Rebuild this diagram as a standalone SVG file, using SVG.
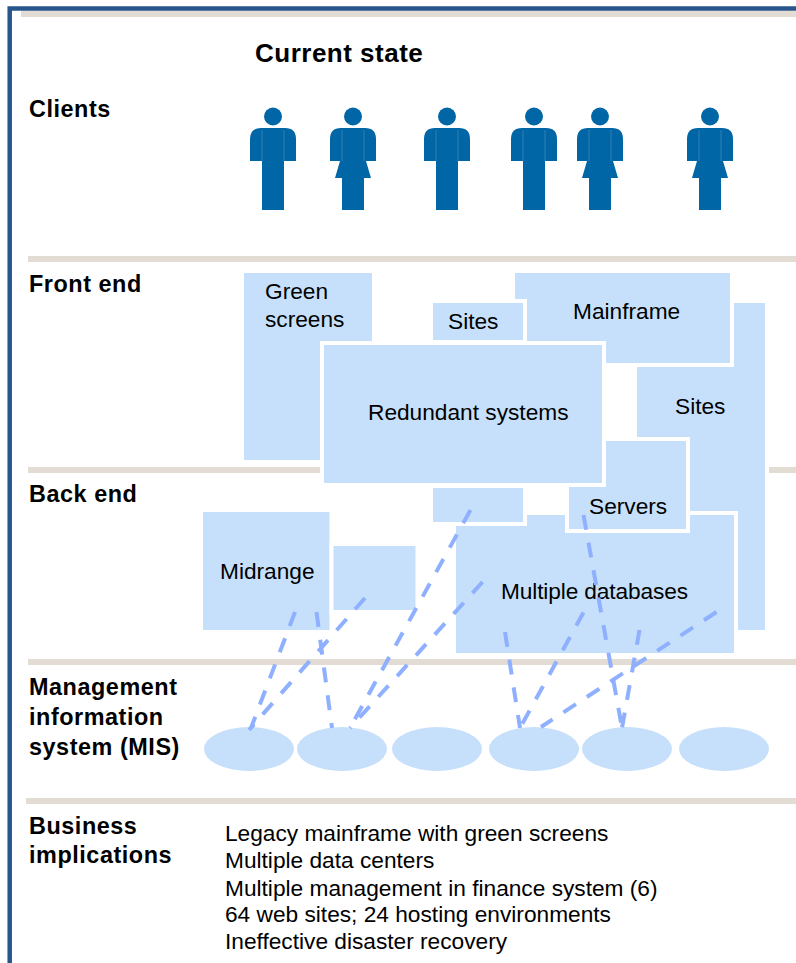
<svg xmlns="http://www.w3.org/2000/svg" width="796" height="963" viewBox="0 0 796 963">
<defs>
<style>
.t{font-family:"Liberation Sans",Arial,sans-serif;font-size:22.7px;fill:#000}
.h{font-family:"Liberation Sans",Arial,sans-serif;font-size:23.4px;font-weight:bold;fill:#000;letter-spacing:.55px}
.b{fill:#c6e0fb;stroke:#fff;stroke-width:8;paint-order:stroke}
.e{fill:#c6e0fb}
.rule{fill:#e3dcd5}
.c{fill:none;stroke:#8fb0ff;stroke-width:4;stroke-dasharray:15 13}
.p{fill:#0066a6}
.s{fill:none;stroke:#3f86b8;stroke-width:.8}
</style>
<g id="man"><circle cx="0" cy="-10.500" r="9"/><path d="M-23 34V12Q-23 1 -12 1H12Q23 1 23 12V34H11V83H-11V34Z"/><path class="s" d="M-11 3V34M11 3V34"/></g>
<g id="woman"><circle cx="0" cy="-10.500" r="9"/><path d="M-23 34V12Q-23 1 -12 1H12Q23 1 23 12V34H13L18 51H11V83H-11V51H-18L-13 34Z"/><path class="s" d="M-11 3V34M11 3V34"/></g>
</defs>
<rect width="796" height="963" fill="#fff"/>
<path d="M9.700 963V8.500H796" fill="none" stroke="#27558c" stroke-width="4.500"/>
<g id="rules">
<rect class="rule" x="21" y="11" width="775" height="6"/>
<rect class="rule" x="28" y="256" width="768" height="6"/>
<rect class="rule" x="28" y="467" width="768" height="6"/>
<rect class="rule" x="28" y="659" width="768" height="6"/>
<rect class="rule" x="26" y="798" width="770" height="6"/>
</g>
<text id="title" class="h" x="255" y="62" style="font-size:26px;letter-spacing:.5px">Current state</text>
<g id="label-clients"><text class="h" x="29" y="117">Clients</text></g>
<g id="label-front"><text class="h" x="29" y="292">Front end</text></g>
<g id="label-back"><text class="h" x="29" y="502">Back end</text></g>
<g id="label-mis"><text class="h" x="29" y="695">Management</text><text class="h" x="29" y="725">information</text><text class="h" x="29" y="755">system (MIS)</text></g>
<g id="label-biz"><text class="h" x="29" y="834">Business</text><text class="h" x="29" y="863">implications</text></g>
<g id="clients" class="p">
<use id="client-1" href="#man" x="273" y="127"/>
<use id="client-2" href="#woman" x="353" y="127"/>
<use id="client-3" href="#man" x="447" y="127"/>
<use id="client-4" href="#man" x="534" y="127"/>
<use id="client-5" href="#woman" x="600" y="127"/>
<use id="client-6" href="#woman" x="710" y="127"/>
</g>
<g id="node-sites-right"><rect class="b" x="637" y="303" width="128" height="327"/><text class="t" x="675" y="414">Sites</text></g>
<g id="node-green"><rect class="b" x="244" y="273" width="128" height="187"/><text class="t" x="265" y="299">Green</text><text class="t" x="265" y="327">screens</text></g>
<g id="node-mainframe"><rect class="b" x="515" y="273" width="215" height="90"/><text class="t" x="573" y="319">Mainframe</text></g>
<g id="node-sites-small"><rect class="b" x="433" y="303" width="90" height="37"/><text class="t" x="448" y="329">Sites</text></g>
<g id="node-databases"><rect class="b" x="456" y="515" width="278" height="138"/><text class="t" x="501" y="599" textLength="187">Multiple databases</text></g>
<g id="node-small-1"><rect class="b" x="433" y="488" width="90" height="34"/></g>
<g id="node-servers"><rect class="b" x="569" y="441" width="117" height="88"/><text class="t" x="589" y="514">Servers</text></g>
<g id="node-redundant"><rect class="b" x="324" y="345" width="278" height="138"/><text class="t" x="368" y="420">Redundant systems</text></g>
<g id="node-midrange"><rect class="b" x="203" y="512" width="126.500" height="118"/><text class="t" x="220" y="579">Midrange</text></g>
<g id="node-small-2"><rect class="b" x="333.500" y="546" width="82" height="64"/></g>
<g id="mis">
<ellipse id="mis-1" class="e" cx="249" cy="749" rx="45" ry="22"/>
<ellipse id="mis-2" class="e" cx="342" cy="749" rx="45" ry="22"/>
<ellipse id="mis-3" class="e" cx="437" cy="749" rx="45" ry="22"/>
<ellipse id="mis-4" class="e" cx="534" cy="749" rx="45" ry="22"/>
<ellipse id="mis-5" class="e" cx="627" cy="749" rx="45" ry="22"/>
<ellipse id="mis-6" class="e" cx="724" cy="749" rx="45" ry="22"/>
</g>
<g id="connectors">
<line class="c" x1="295" y1="612" x2="251" y2="728"/>
<line class="c" x1="316.500" y1="612" x2="332" y2="728"/>
<line class="c" x1="365" y1="598" x2="249" y2="730"/>
<line class="c" x1="470.500" y1="510" x2="350" y2="728"/>
<line class="c" x1="482.500" y1="582" x2="350" y2="728"/>
<line class="c" x1="505" y1="632" x2="520" y2="728"/>
<line class="c" x1="583.500" y1="612.500" x2="520" y2="728"/>
<line class="c" x1="583.500" y1="515" x2="622" y2="728"/>
<line class="c" x1="639.500" y1="630" x2="622" y2="728"/>
<line class="c" x1="716.500" y1="612" x2="541" y2="727"/>
</g>
<g id="implications">
<text class="t" x="225" y="841">Legacy mainframe with green screens</text>
<text class="t" x="225" y="868">Multiple data centers</text>
<text class="t" x="225" y="896">Multiple management in finance system (6)</text>
<text class="t" x="225" y="922">64 web sites; 24 hosting environments</text>
<text class="t" x="225" y="949">Ineffective disaster recovery</text>
</g>
</svg>
